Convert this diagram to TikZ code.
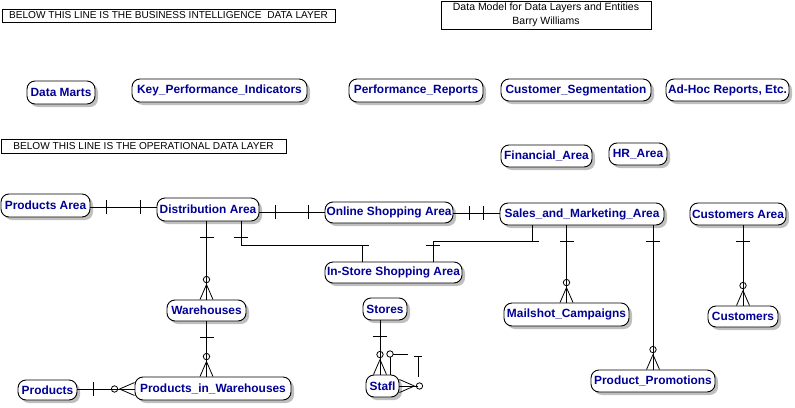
\documentclass[tikz,border=0pt]{standalone}
\usepackage{fontspec}
\setmainfont{Liberation Sans}
\usetikzlibrary{shadows,decorations.markings}
\definecolor{entblue}{RGB}{0,0,150}

\begin{document}
\begin{tikzpicture}[x=1pt,y=-1pt,
 ent/.style={draw, rounded corners=8pt, fill=white, line width=0.9pt, text=entblue, font=\bfseries\fontsize{11.9}{13}\selectfont, inner sep=0pt, drop shadow={shadow xshift=3pt,shadow yshift=-3pt,fill=black!25,opacity=1}},
 hdr/.style={draw, line width=0.8pt, font=\fontsize{10.1}{11}\selectfont, inner sep=0pt, align=center},
 rel/.style={line width=0.8pt},
 one/.style={postaction={decorate,decoration={markings,mark=at position #1 with {\draw[rel] (0pt,-7pt)--(0pt,7pt);}}}},
 many/.style={postaction={decorate,decoration={markings,mark=at position 1 with {\draw[rel] (-15pt,0pt)--(0pt,6.5pt) (-15pt,0pt)--(0pt,-6.5pt) (-20pt,0pt) circle (3.2pt);}}}}]
\useasboundingbox (0,0) rectangle (795,407);
\node[hdr, minimum width=333, minimum height=13] (bil) at (168.5,15.5) {BELOW THIS LINE IS THE BUSINESS INTELLIGENCE\ \ DATA LAYER};
\node[hdr, minimum width=285, minimum height=14] (opl) at (143.5,146) {BELOW THIS LINE IS THE OPERATIONAL DATA LAYER};
\node[hdr, minimum width=210, minimum height=28, font=\fontsize{10.5}{13.5}\selectfont] (title) at (546,15) {Data Model for Data Layers and Entities\\Barry Williams};
\node[ent, minimum width=68, minimum height=23] (dm) at (61,92.5) {Data Marts};
\node[ent, minimum width=175, minimum height=23] (kpi) at (219.5,90.5) {Key\_Performance\_Indicators};
\node[ent, minimum width=134, minimum height=23] (pr) at (416,90.5) {Performance\_Reports};
\node[ent, minimum width=150, minimum height=22] (cs) at (576,90) {Customer\_Segmentation};
\node[ent, minimum width=123, minimum height=22] (ah) at (727.5,90) {Ad-Hoc Reports, Etc.};
\node[ent, minimum width=91, minimum height=22] (fa) at (546.5,156) {Financial\_Area};
\node[ent, minimum width=58, minimum height=22] (hr) at (638,154) {HR\_Area};
\node[ent, minimum width=89, minimum height=23] (pa) at (45.5,205.5) {Products Area};
\node[ent, minimum width=102, minimum height=23] (da) at (208,209.5) {Distribution Area};
\node[ent, minimum width=128, minimum height=21] (os) at (389,212.5) {Online Shopping Area};
\node[ent, minimum width=164, minimum height=22] (sm) at (582,214) {Sales\_and\_Marketing\_Area};
\node[ent, minimum width=96, minimum height=22] (ca) at (738,214) {Customers Area};
\node[ent, minimum width=137, minimum height=21] (is) at (393.5,272.5) {In-Store Shopping Area};
\node[ent, minimum width=79, minimum height=21] (wh) at (206.5,310.5) {Warehouses};
\node[ent, minimum width=44, minimum height=22] (st) at (385,309) {Stores};
\node[ent, minimum width=125, minimum height=23] (mc) at (566.5,314.5) {Mailshot\_Campaigns};
\node[ent, minimum width=70, minimum height=21] (cu) at (743,316.5) {Customers};
\node[ent, minimum width=156, minimum height=23] (pw) at (213,388.5) {Products\_in\_Warehouses};
\node[ent, minimum width=124, minimum height=22] (pp) at (653,381) {Product\_Promotions};
\node[ent, minimum width=59, minimum height=20] (pd) at (47.5,390) {Products};
\node[ent, minimum width=33, minimum height=22] (sf) at (382.5,386) {Stafl};
\draw[rel, one=16pt, one=-16pt] (pa.east |- 0,207) -- (da.west |- 0,207);
\draw[rel, one=16pt, one=-16pt] (da.east |- 0,212) -- (os.west |- 0,212);
\draw[rel, one=16pt, one=-16pt] (os.east |- 0,213) -- (sm.west |- 0,213);
\draw[rel, one=16pt, one=-16pt] (241,0 |- da.south) -- (241,245) -- (362,245) -- (362,0 |- is.north);
\draw[rel, one=15.5pt, one=-16pt] (532,0 |- sm.south) -- (532,241) -- (433,241) -- (433,0 |- is.north);
\draw[rel, one=16pt, many] (wh.north |- da.south) -- (wh.north);
\draw[rel, one=16pt, many] (wh.south) -- (wh.south |- pw.north);
\draw[rel, one=16pt, many] (pd.east |- 0,389) -- (pw.west |- 0,389);
\draw[rel, one=16pt, many] (380,0 |- st.south) -- (380,0 |- sf.north);
\draw[rel, one=16pt, many] (mc.north |- sm.south) -- (mc.north);
\draw[rel, one=16pt, many] (pp.north |- sm.south) -- (pp.north);
\draw[rel, one=16pt, many] (cu.north |- ca.south) -- (cu.north);
\draw[rel] (390,0 |- sf.north) -- (390,357.2) (393.2,354) -- (408,354) (414,356) -- (422,356) (418,356) -- (418,377);
\draw[rel] (390,354) circle (3.2pt);
\draw[rel, many] (418,0 |- sf.east) -- (sf.east);
\end{tikzpicture}
\end{document}
